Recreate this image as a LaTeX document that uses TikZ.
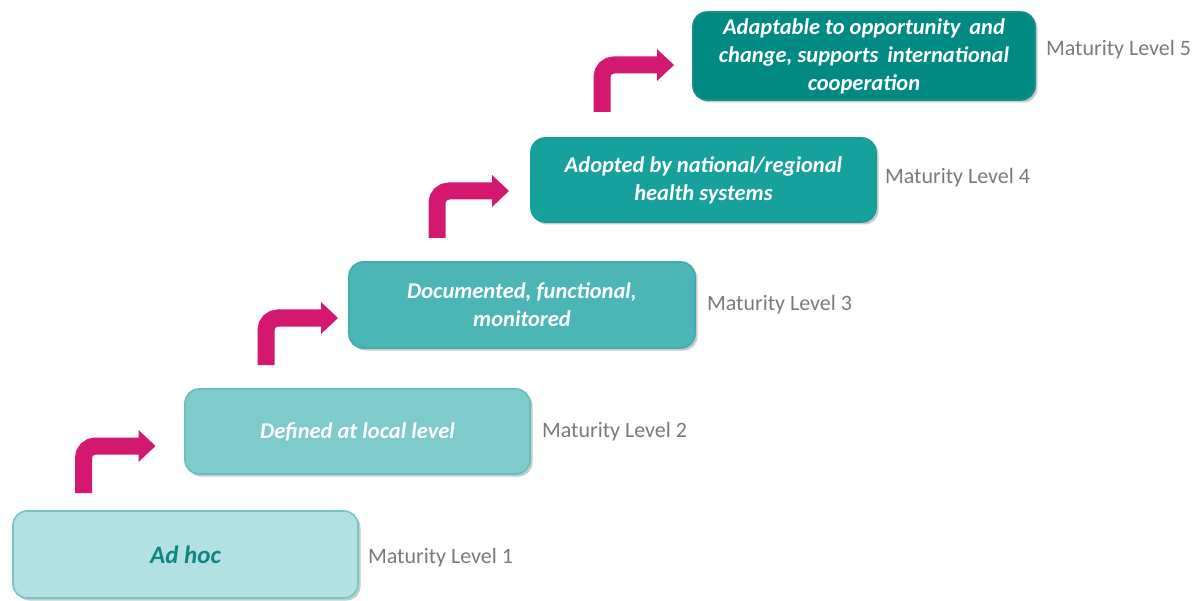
\documentclass[tikz,border=0pt]{standalone}
\usepackage{fontspec}
\setmainfont{Carlito}
\usetikzlibrary{shadows}

\definecolor{lvlA}{HTML}{B3E0E1}
\definecolor{lvlAline}{HTML}{74C7C9}
\definecolor{lvlB}{HTML}{7FCBCB}
\definecolor{lvlBline}{HTML}{62C0C0}
\definecolor{lvlC}{HTML}{4CB6B6}
\definecolor{lvlCline}{HTML}{3EADAD}
\definecolor{lvlD}{HTML}{17A19D}
\definecolor{lvlDline}{HTML}{1B9B97}
\definecolor{lvlE}{HTML}{018A84}
\definecolor{lvlEline}{HTML}{15918B}
\definecolor{stepmagenta}{HTML}{D4186F}
\definecolor{darkteal}{HTML}{0E8682}
\definecolor{labelgray}{HTML}{7A7A7A}

\tikzset{
  levelbox/.style={rounded corners=14pt, line width=1.6pt, align=center,
    font=\bfseries\itshape\fontsize{22.5}{28}\selectfont, text=white,
    drop shadow={shadow xshift=2.5pt, shadow yshift=-2.5pt, opacity=0.35, fill=black!60}},
  levellabel/.style={anchor=west, text=labelgray, font=\fontsize{22}{26}\selectfont, inner sep=0pt},
  % bent step arrow: origin at the bottom centre of the stem
  pics/steparrow/.style={code={
    \draw[stepmagenta, line width=17pt, rounded corners=12pt]
      (0,0) -- (0,-47) -- (56,-47);
    \fill[stepmagenta] (55,-31) -- (72,-47) -- (55,-63) -- cycle;
  }}
}

\begin{document}
\begin{tikzpicture}[x=1pt, y=-1pt]
  \useasboundingbox (0,0) rectangle (1201,601);

  % level boxes
  \node[levelbox, fill=lvlA, draw=lvlAline, minimum width=345pt, minimum height=87pt, text=darkteal,
        font=\bfseries\itshape\fontsize{25}{28}\selectfont]
    (b1) at (185.5,554.5) {Ad hoc};
  \node[levelbox, fill=lvlB, draw=lvlBline, minimum width=345pt, minimum height=85pt]
    (b2) at (357.5,431.5) {Defined at local level};
  \node[levelbox, fill=lvlC, draw=lvlCline, minimum width=346pt, minimum height=86pt]
    (b3) at (522,305) {Documented, functional,\\monitored};
  \node[levelbox, fill=lvlD, draw=lvlDline, minimum width=345pt, minimum height=84pt]
    (b4) at (703.5,180) {Adopted by national/regional\\health systems};
  \node[levelbox, fill=lvlE, draw=lvlEline, minimum width=342pt, minimum height=88pt]
    (b5) at (864,56) {Adaptable to opportunity\, and\\change, supports\, international\\cooperation};

  % maturity labels
  \node[levellabel] (l1) at ([xshift=9pt,yshift=-3.5pt]b1.east) {Maturity Level 1};
  \node[levellabel] (l2) at ([xshift=11pt,yshift=-0.5pt]b2.east) {Maturity Level 2};
  \node[levellabel] (l3) at ([xshift=11pt,yshift=0pt]b3.east) {Maturity Level 3};
  \node[levellabel] (l4) at ([xshift=8pt,yshift=2pt]b4.east) {Maturity Level 4};
  \node[levellabel] (l5) at ([xshift=10pt,yshift=6pt]b5.east) {Maturity Level 5};

  % step arrows between the levels
  \pic at (83.5,493) {steparrow};
  \pic at (266,365) {steparrow};
  \pic at (437,238) {steparrow};
  \pic at (602,112) {steparrow};
\end{tikzpicture}
\end{document}
